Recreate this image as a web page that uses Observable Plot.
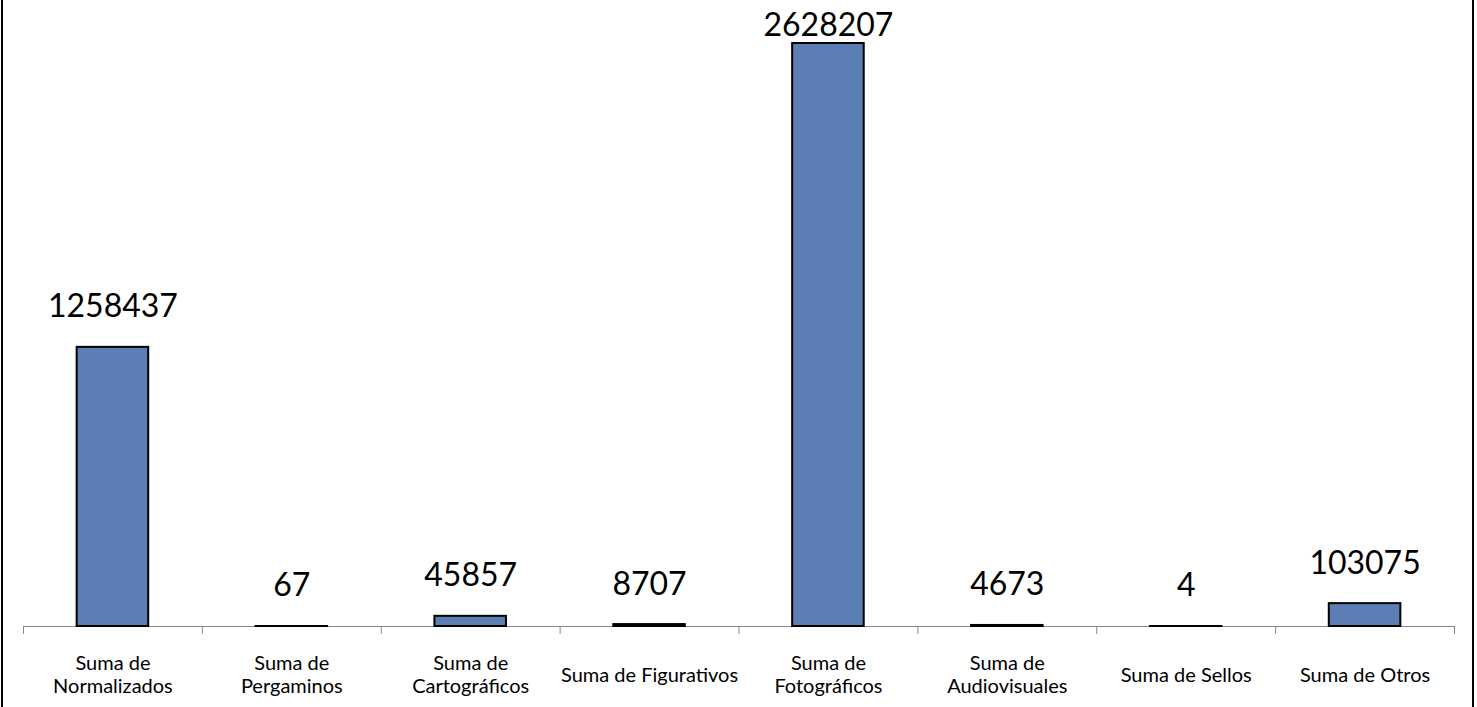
<!DOCTYPE html>
<html>
<head>
<meta charset="utf-8">
<script src="https://cdn.jsdelivr.net/npm/d3@7"></script>
<script src="https://cdn.jsdelivr.net/npm/@observablehq/plot@0.6"></script>
<style>
  html, body { margin: 0; padding: 0; background: #fff; }
  #wrap { position: relative; width: 1477px; height: 707px; overflow: hidden; }
  .edge { position: absolute; top: 0; bottom: 0; width: 2px; background: #000; }
</style>
</head>
<body>
<div id="wrap">
  <div class="edge" style="left:1px"></div>
  <div class="edge" style="left:1472px"></div>
</div>
<script>
const categories = ["Normalizados", "Pergaminos", "Cartográficos", "Figurativos", "Fotográficos", "Audiovisuales", "Sellos", "Otros"];
const values = [1258437, 67, 45857, 8707, 2628207, 4673, 4, 103075];
const tickLabels = ["Suma de\nNormalizados", "Suma de\nPergaminos", "Suma de\nCartográficos", "Suma de Figurativos", "Suma de\nFotográficos", "Suma de\nAudiovisuales", "Suma de Sellos", "Suma de Otros"];

const data = categories.map((c, i) => ({cat: c, value: values[i], label: tickLabels[i]}));
const maxVal = d3.max(values);

const W = 1477, H = 707, ML = 23, MR = 23, MT = 43, MB = 81;
const step = (W - ML - MR) / categories.length;
const grey = "#898989";

const chart = Plot.plot({
  width: W,
  height: H,
  marginLeft: ML,
  marginRight: MR,
  marginTop: MT,
  marginBottom: MB,
  style: {fontFamily: "Lato, 'Liberation Sans', sans-serif", background: "transparent", overflow: "visible"},
  x: {domain: categories, paddingInner: 0.6, paddingOuter: 0.3, round: false, axis: null, label: null},
  y: {domain: [0, maxVal], axis: null},
  marks: [
    Plot.ruleY([0], {stroke: grey, strokeWidth: 1}),
    Plot.axisX({ticks: categories, tickSize: 8, tickFormat: () => "", label: null, stroke: grey, dx: -step / 2}),
    Plot.axisX({ticks: [categories[categories.length - 1]], tickSize: 8, tickFormat: () => "", label: null, stroke: grey, dx: step / 2}),
    Plot.barY(data, {x: "cat", y: "value", fill: "#5b7fb5", stroke: "#000", strokeWidth: 2}),
    Plot.text(data.filter(d => d.value !== maxVal), {x: "cat", y: "value", text: d => String(d.value), fontSize: 32, lineAnchor: "bottom", dy: -30, fill: "#000"}),
    Plot.text(data.filter(d => d.value === maxVal), {x: "cat", y: "value", text: d => String(d.value), fontSize: 32, lineAnchor: "bottom", dy: -8, fill: "#000"}),
    Plot.text(data, {x: "cat", frameAnchor: "bottom", text: "label", fontSize: 20, lineAnchor: "middle", lineHeight: 1.12, dy: 48, fill: "#000"})
  ]
});
document.getElementById("wrap").prepend(chart);
</script>
</body>
</html>
